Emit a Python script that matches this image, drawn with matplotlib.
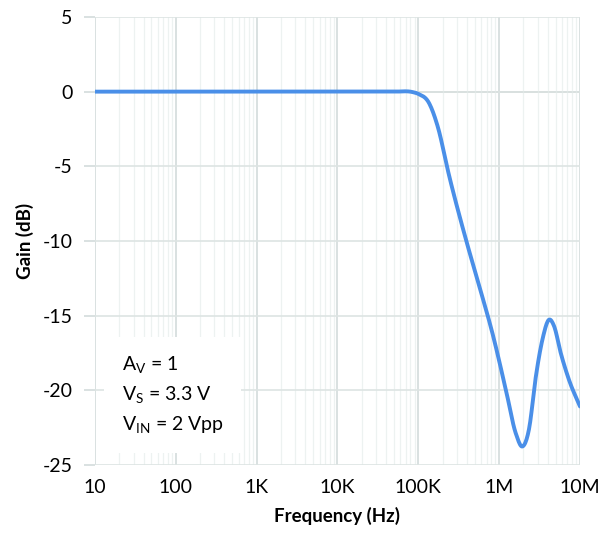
import numpy as np
import matplotlib.pyplot as plt
from matplotlib.ticker import FixedLocator, LogLocator, NullFormatter

plt.rcParams['font.family'] = ['Lato', 'DejaVu Sans']
plt.rcParams['mathtext.fontset'] = 'custom'
plt.rcParams['mathtext.rm'] = 'Lato'

# frequency response
freq = [10, 100, 1e3, 1e4, 5e4, 8.5e4, 1e5, 1.368e5, 1.73e5, 2.415e5, 3.88e5, 5.66e5,
        8.28e5, 1.21e6, 1.61e6, 1.94e6, 2.34e6, 2.84e6, 3.43e6, 4.14e6, 4.78e6,
        5.78e6, 7.31e6, 1e7]
gain = [0, 0, 0, 0, 0.0, -0.03, -0.15, -0.8, -2.3, -5.67, -9.9, -13.0,
        -16.2, -19.96, -22.9, -23.76, -22.6, -19.1, -16.6, -15.27, -15.7,
        -17.5, -19.3, -21.08]
xticks = [10, 100, 1e3, 1e4, 1e5, 1e6, 1e7]
xlabels = ['10', '100', '1K', '10K', '100K', '1M', '10M']
yticks = [5, 0, -5, -10, -15, -20, -25]

# smooth curve in log-frequency space (cubic hermite through the read points)
lx = np.log10(freq)
fine = np.linspace(lx[0], lx[-1], 800)
def hermite(x, y, xs):
    x = np.asarray(x); y = np.asarray(y)
    m = np.gradient(y, x)
    out = np.empty_like(xs)
    for i, v in enumerate(xs):
        k = min(max(np.searchsorted(x, v) - 1, 0), len(x) - 2)
        h = x[k + 1] - x[k]
        t = (v - x[k]) / h
        h00 = 2*t**3 - 3*t**2 + 1
        h10 = t**3 - 2*t**2 + t
        h01 = -2*t**3 + 3*t**2
        h11 = t**3 - t**2
        out[i] = h00*y[k] + h10*h*m[k] + h01*y[k+1] + h11*h*m[k+1]
    return out
smooth = hermite(lx, gain, fine)

fig = plt.figure(figsize=(6.07, 5.39), dpi=100)
ax = fig.add_axes([0.1565, 0.1373, 0.799, 0.8312])

ax.plot(10**fine, smooth, color='#4a8fe8', lw=2.8, zorder=3, solid_capstyle='round')

ax.set_xscale('log')
ax.set_xlim(10, 1e7)
ax.set_ylim(-25, 5)
ax.xaxis.set_major_locator(FixedLocator(xticks))
ax.set_xticklabels(xlabels)
ax.xaxis.set_minor_locator(LogLocator(base=10, subs=np.arange(2, 10)))
ax.xaxis.set_minor_formatter(NullFormatter())
ax.set_yticks(yticks)
ax.set_yticklabels([str(v) for v in yticks])

ax.grid(True, which='major', axis='x', color='#d3dcdb', lw=1.2)
ax.grid(True, which='minor', axis='x', color='#edf2f1', lw=0.9)
ax.grid(True, which='major', axis='y', color='#dde4e3', lw=1.2)
ax.axhline(0, color='#c4cccb', lw=1.3, zorder=1)

for s in ax.spines.values():
    s.set_visible(False)
ax.tick_params(axis='y', length=8, color='#d3dcdb', width=1.2, labelsize=14, pad=8)
ax.tick_params(axis='x', which='major', length=0, labelsize=14, pad=10)
ax.tick_params(axis='x', which='minor', length=0)

ax.set_xlabel('Frequency (Hz)', fontsize=13.5, fontweight='bold', labelpad=8)
ax.set_ylabel('Gain (dB)', fontsize=13.5, fontweight='bold', labelpad=6)

ax.text(0.055, 0.065, 'A$_\\mathregular{V}$ = 1\nV$_\\mathregular{S}$ = 3.3 V\nV$_\\mathregular{IN}$ = 2 Vpp',
        transform=ax.transAxes, fontsize=14, va='bottom', ha='left', linespacing=1.55,
        bbox=dict(boxstyle='square,pad=0.9', facecolor='white', edgecolor='none'), zorder=4)

fig.savefig('out.png', dpi=100)
